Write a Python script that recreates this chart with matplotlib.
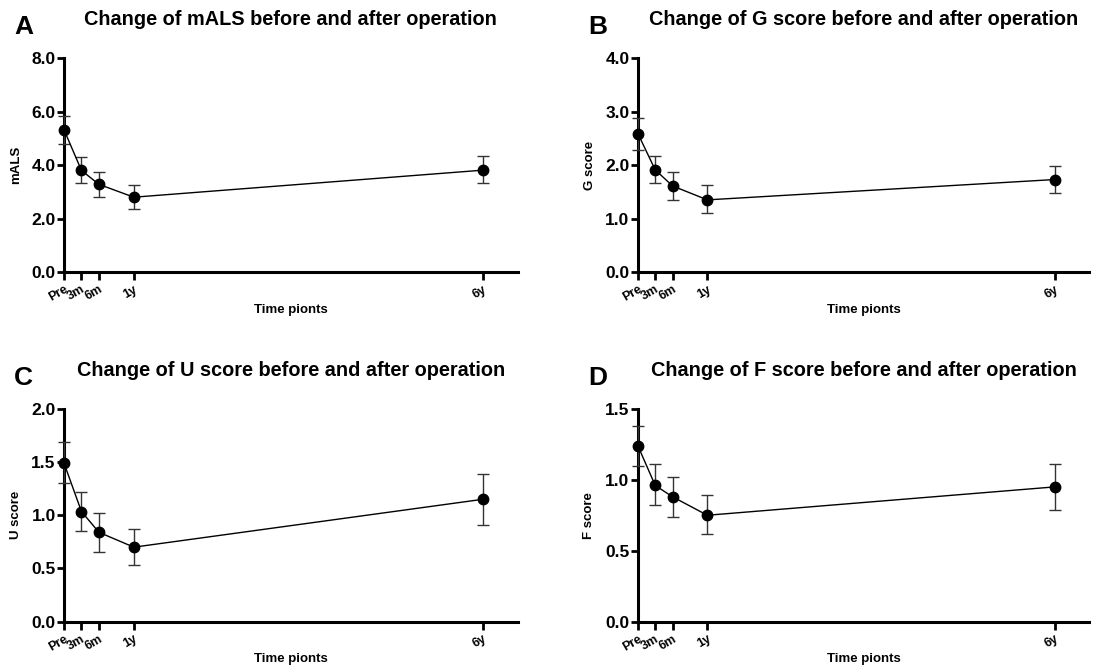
import numpy as np
import matplotlib.pyplot as plt
from matplotlib.ticker import FormatStrFormatter

plt.rcParams['font.family'] = ['Liberation Sans', 'DejaVu Sans']
plt.rcParams['font.weight'] = 'bold'

# Zeitpunkte in Monaten nach OP
months = [0, 3, 6, 12, 72]
tick_labels = ['Pre', '3m', '6m', '1y', '6y']

mals_mean = [5.32, 3.80, 3.28, 2.80, 3.81]
mals_lo = [4.80, 3.33, 2.80, 2.36, 3.33]
mals_hi = [5.83, 4.30, 3.74, 3.27, 4.33]

g_mean = [2.59, 1.91, 1.61, 1.35, 1.73]
g_lo = [2.29, 1.66, 1.35, 1.10, 1.48]
g_hi = [2.88, 2.17, 1.87, 1.62, 1.98]

u_mean = [1.49, 1.035, 0.84, 0.70, 1.15]
u_lo = [1.30, 0.85, 0.65, 0.53, 0.91]
u_hi = [1.69, 1.22, 1.02, 0.87, 1.39]

f_mean = [1.24, 0.96, 0.88, 0.75, 0.95]
f_lo = [1.10, 0.82, 0.74, 0.62, 0.79]
f_hi = [1.38, 1.11, 1.02, 0.89, 1.11]

panels = [
    ('A', 'Change of mALS before and after operation', 'mALS', mals_mean, mals_lo, mals_hi, [0, 2, 4, 6, 8]),
    ('B', 'Change of G score before and after operation', 'G score', g_mean, g_lo, g_hi, [0, 1, 2, 3, 4]),
    ('C', 'Change of U score before and after operation', 'U score', u_mean, u_lo, u_hi, [0, 0.5, 1.0, 1.5, 2.0]),
    ('D', 'Change of F score before and after operation', 'F score', f_mean, f_lo, f_hi, [0, 0.5, 1.0, 1.5]),
]

# Achsenpositionen [links, unten, breite, hoehe] in Figurenanteilen
rects = [
    [0.0584, 0.592, 0.414, 0.321],
    [0.582, 0.592, 0.412, 0.321],
    [0.0584, 0.068, 0.414, 0.319],
    [0.582, 0.068, 0.412, 0.319],
]

fig = plt.figure(figsize=(10.96, 6.67), dpi=100)

for (letter, title, ylabel, mean, lo, hi, yticks), rect in zip(panels, rects):
    ax = fig.add_axes(rect)
    mean = np.array(mean)
    yerr = [mean - np.array(lo), np.array(hi) - mean]
    ax.errorbar(months, mean, yerr=yerr, color='black', ecolor='#333333', elinewidth=1,
                capsize=4, capthick=1, linewidth=1, marker='o', markersize=7.5, zorder=3,
                clip_on=False)
    ax.set_xlim(0, 78)
    ax.set_ylim(0, yticks[-1])
    ax.set_yticks(yticks)
    ax.yaxis.set_major_formatter(FormatStrFormatter('%.1f'))
    ax.set_xticks(months)
    ax.set_xticklabels(tick_labels, rotation=30, ha='right', rotation_mode='anchor', fontsize=9)
    ax.tick_params(axis='y', labelsize=12.5, width=2, length=5, pad=1)
    ax.tick_params(axis='x', width=2, length=6, pad=2)
    for s in ['top', 'right']:
        ax.spines[s].set_visible(False)
    for s in ['left', 'bottom']:
        ax.spines[s].set_linewidth(2.2)
    ax.set_ylabel(ylabel, fontsize=9.5, fontweight='bold', labelpad=7)
    ax.set_xlabel('Time pionts', fontsize=9.5, fontweight='bold', labelpad=0)
    ax.set_title(title, fontsize=14.3, fontweight='bold', pad=24, x=0.5)
    ax.text(-0.11, 1.2, letter, transform=ax.transAxes, fontsize=19, fontweight='bold',
            va='top', ha='left')

plt.savefig('out.png', dpi=100)
